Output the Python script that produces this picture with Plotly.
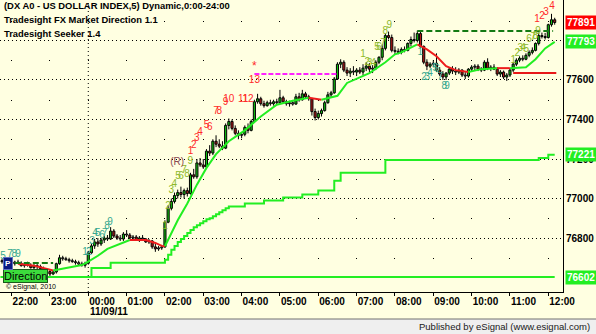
import plotly.graph_objects as go
import pandas as pd

# ---------------- data (5-minute bars from 21:45) ----------------
BASE = pd.Timestamp("2011-11-08 21:45")
BAR_MIN = 5

opens = [76680,76685,76690,76680,76670,76678,76672,76660,76668,76662,76650,76660,76655,76645,76620,76630,76618,76628,76670,76700,
         76695,76690,76685,76680,76675,76668,76662,76672,76725,76760,76780,76770,76790,76800,76795,76835,76810,76800,76795,76820,
         76815,76800,76805,76790,76800,76795,76780,76785,76755,76745,76750,76755,76880,76950,76985,77015,77030,77020,77040,77025,
         77120,77110,77180,77170,77160,77240,77230,77290,77275,77265,77255,77370,77390,77355,77330,77320,77325,77360,77345,77390,
         77490,77505,77480,77470,77485,77480,77490,77485,77510,77490,77480,77485,77478,77515,77500,77530,77515,77505,77440,77410,
         77430,77445,77485,77525,77535,77605,77680,77690,77650,77635,77645,77640,77650,77640,77660,77670,77655,77660,77690,77715,
         77760,77825,77815,77750,77745,77740,77755,77750,77785,77805,77800,77835,77770,77690,77670,77680,77685,77650,77630,77615,
         77635,77655,77645,77640,77650,77625,77620,77655,77665,77670,77655,77650,77690,77660,77665,77655,77630,77640,77615,77625,
         77650,77680,77700,77710,77705,77725,77740,77750,77785,77825,77820,77815,77880,77905]
highs = [76695,76700,76700,76690,76685,76690,76682,76675,76680,76672,76668,76668,76665,76655,76640,76640,76635,76675,76715,76710,
         76705,76700,76695,76690,76685,76680,76680,76735,76770,76795,76800,76800,76810,76815,76855,76845,76820,76815,76830,76840,
         76825,76815,76815,76810,76815,76800,76795,76790,76770,76760,76765,76890,76965,77000,77030,77045,77060,77050,77055,77130,
         77150,77200,77205,77200,77250,77270,77300,77320,77300,77290,77380,77405,77400,77370,77345,77335,77370,77380,77400,77500,
         77530,77515,77495,77495,77500,77500,77505,77550,77520,77500,77495,77495,77530,77535,77550,77540,77525,77510,77455,77445,
         77455,77495,77540,77545,77615,77690,77705,77700,77665,77660,77670,77660,77665,77680,77690,77685,77675,77700,77720,77780,
         77835,77845,77830,77770,77760,77765,77770,77790,77820,77840,77850,77845,77775,77705,77690,77700,77735,77665,77645,77640,
         77665,77670,77665,77660,77655,77640,77660,77675,77680,77680,77665,77700,77710,77675,77680,77665,77650,77648,77635,77660,
         77690,77710,77720,77725,77735,77750,77765,77790,77840,77840,77838,77885,77935,77915]
lows = [76670,76675,76675,76665,76660,76668,76655,76650,76655,76645,76640,76640,76630,76610,76610,76605,76612,76620,76665,76685,
        76685,76675,76675,76665,76660,76655,76650,76665,76720,76745,76755,76760,76775,76785,76790,76800,76790,76785,76785,76805,
        76795,76790,76785,76780,76785,76775,76770,76745,76730,76735,76740,76750,76875,76940,76975,77000,77005,77000,77010,77020,
        77100,77100,77160,77150,77155,77215,77220,77260,77255,77245,77250,77350,77345,77320,77300,77305,77315,77330,77340,77385,
        77480,77470,77460,77465,77470,77470,77475,77480,77480,77470,77465,77470,77475,77490,77495,77505,77495,77420,77395,77400,
        77415,77440,77480,77510,77530,77600,77660,77640,77620,77615,77625,77620,77630,77625,77645,77640,77635,77650,77680,77700,
        77750,77805,77740,77730,77730,77730,77740,77745,77770,77790,77790,77760,77680,77650,77660,77665,77640,77620,77600,77600,
        77625,77630,77625,77630,77615,77605,77612,77645,77650,77645,77640,77645,77650,77645,77650,77620,77615,77605,77595,77615,
        77640,77670,77690,77695,77700,77715,77730,77745,77775,77810,77805,77810,77870,77880]
closes = [76685,76690,76680,76670,76678,76672,76660,76668,76662,76650,76660,76655,76645,76620,76630,76618,76628,76670,76700,76695,
          76690,76685,76680,76675,76668,76662,76672,76725,76760,76780,76770,76790,76800,76795,76835,76810,76800,76795,76820,76815,
          76800,76805,76790,76800,76795,76780,76785,76755,76745,76750,76755,76880,76950,76985,77015,77030,77020,77040,77025,77120,
          77110,77180,77170,77160,77240,77230,77290,77275,77265,77255,77370,77390,77355,77330,77320,77325,77360,77345,77390,77490,
          77505,77480,77470,77485,77480,77490,77485,77510,77490,77480,77485,77478,77515,77500,77530,77515,77505,77440,77410,77430,
          77445,77485,77525,77535,77605,77680,77690,77650,77635,77645,77640,77650,77640,77660,77670,77655,77660,77690,77715,77760,
          77825,77815,77750,77745,77740,77755,77750,77785,77805,77800,77835,77770,77690,77670,77680,77685,77650,77630,77615,77635,
          77655,77645,77640,77650,77625,77620,77655,77665,77670,77655,77650,77690,77660,77665,77655,77630,77640,77615,77625,77650,
          77680,77700,77710,77705,77725,77740,77750,77785,77825,77820,77815,77880,77905,77891]

# Market-direction line (knots: bar index, value, trend state u/d)
mid_bar = [5,10,16,20,25,27,30,33,36,39,40,45,48,50,51,55,58,61,64,67,71,76,81,86,91,96,100,105,108,115,120,123,125,129,130,133,
           136,139,142,146,150,155,158,159,164,167,170,173]
mid_val = [76670,76660,76635,76648,76663,76680,76710,76745,76765,76785,76790,76790,76775,76760,76758,76890,76975,77070,77155,
           77225,77290,77345,77415,77475,77495,77510,77500,77520,77585,77635,77690,77730,77740,77775,77780,77755,77720,77670,
           77650,77640,77655,77660,77658,77660,77665,77705,77760,77793]
mid_state = ["d","d","u","u","u","u","u","u","u","u","d","d","d","d","u","u","u","u","u","u","u","u","u","u","u","d","u","u",
             "u","u","u","u","u","u","d","d","d","d","d","u","u","d","d","u","u","u","u","u"]

# Seeker stop (step line)
step_bar = [27,28,34,51,52,53,54,55,56,57,58,59,60,61,62,63,64,65,66,67,68,69,70,71,76,82,88,94,99,104,106,120,168,171,173]
step_val = [76602,76648,76675,76690,76715,76740,76760,76780,76795,76810,76825,76840,76855,76865,76875,76885,76895,76900,76910,
            76920,76930,76940,76950,76960,76975,76990,77005,77020,77040,77090,77130,77195,77205,77221,77221]

flat_bar = [-0.5, 173]
flat_val = [76602, 76602]

# Horizontal reference levels (start bar, end bar, value)
lvl_left = (4, 16, 76673)
lvl_top = (130, 172.5, 77848)
lvl_magenta = (79, 105, 77630)
lvl_red = (160, 173.5, 77635)

# count labels
red_txt = ["1","2","3","4","5","6","7","8","9","10","11","12","13","1","2","3","4"]
red_bar = [59,60,61,62,64,65,67,68,70,71,75.5,77,79,167.5,169,170.3,172.2]
red_val = [77240,77266,77306,77332,77372,77362,77438,77443,77484,77499,77499,77499,77598,77904,77919,77944,77970]
star_bar, star_val = 79, 77666

ga_txt = ["1","2","3","4","5","6","7","8","9", "1","2","3","4","5","6","7","8","9", "1","2","3","4","5","6","7","8","9"]
ga_bar = [51,52,53,53.9,55.1,56,57,57.9,58.9, 113,114.3,115,116.2,117.4,118,119.3,120,121.2,
          160,161.3,162.2,163.1,164.1,165,166.3,166.9,167.8]
ga_val = [76856,76957,77043,77073,77109,77109,77144,77119,77185, 77727,77691,77686,77686,77767,77767,77787,77848,77878,
          77701,77732,77762,77762,77752,77803,77813,77818,77848]

gb_txt = ["5","7","8","9", "1","2","3","4","5","6","7","8","9", "1","2","3","4","5","6","7","8","9"]
gb_bar = [0.3,2.5,3.8,5, 26,27.2,28.2,29.1,30,31.3,32.2,32.9,33.8, 130.9,132.1,133.1,134,135.6,136.2,137.1,138.4,139.3]
gb_val = [76704,76714,76714,76714, 76729,76729,76780,76825,76825,76815,76825,76856,76876,
          77737,77615,77615,77635,77656,77651,77615,77565,77565]

r_bar, r_val = 54.8, 77180

hour_ticks = ["2011-11-08 22:00","2011-11-08 23:00"] + ["2011-11-09 %02d:00" % h for h in range(0, 13)]
hour_text = [s[-5:] for s in hour_ticks]
y_ticks = [76800, 77000, 77200, 77400, 77600, 77800]
title_lines = ["(DX A0 - US DOLLAR INDEX,5) Dynamic,0:00-24:00",
               "Tradesight FX Market Direction 1.1",
               "Tradesight Seeker 1.4"]

# ---------------- styling ----------------
BG = "#FFFFE1"
C_UP = "#10C010"
C_DN = "#B01818"
C_GRAY = "#A8A8A8"
C_LINE_G = "#22EE22"
C_LINE_R = "#EE1C1C"


def t(k):
    return BASE + pd.Timedelta(minutes=BAR_MIN * k)


fig = go.Figure()

n = len(closes)
xs = [t(k) for k in range(n)]

# wicks (split so they do not cross the bodies)
wx, wy = [], []
for x, o, h, l, c in zip(xs, opens, highs, lows, closes):
    top, bot = max(o, c), min(o, c)
    wx += [x, x, None, x, x, None]
    wy += [top, h, None, l, bot, None]
fig.add_trace(go.Scatter(x=wx, y=wy, mode="lines", line=dict(color="black", width=1), hoverinfo="skip"))

base_l, height_l, col_l = [], [], []
for o, c in zip(opens, closes):
    d = c - o
    hgt = max(abs(d), 3)
    base_l.append(min(o, c) - (hgt - abs(d)) / 2)
    height_l.append(hgt)
    col_l.append(C_UP if d > 9 else (C_DN if d < -9 else C_GRAY))
fig.add_trace(go.Bar(x=xs, y=height_l, base=base_l, width=BAR_MIN * 60000 * 0.66,
                     marker=dict(color=col_l, line=dict(color="black", width=1)), hoverinfo="skip"))

# flat and step lines
fig.add_trace(go.Scatter(x=[t(k) for k in flat_bar], y=flat_val, mode="lines",
                         line=dict(color=C_LINE_G, width=2), hoverinfo="skip"))
fig.add_trace(go.Scatter(x=[t(k) for k in step_bar], y=step_val, mode="lines",
                         line=dict(color=C_LINE_G, width=2, shape="hv"), hoverinfo="skip"))

# direction line, coloured by state
i = 0
while i < len(mid_bar) - 1:
    s = mid_state[i]
    j = i
    while j < len(mid_bar) - 1 and mid_state[j] == s:
        j += 1
    fig.add_trace(go.Scatter(x=[t(k) for k in mid_bar[i:j + 1]], y=mid_val[i:j + 1], mode="lines",
                             line=dict(color=C_LINE_R if s == "d" else C_LINE_G, width=2), hoverinfo="skip"))
    i = j

# reference levels
for (a, b, v), col, dash in [(lvl_left, "#137A13", "6px,3px"), (lvl_top, "#137A13", "6px,3px"),
                             (lvl_magenta, "#FF22FF", "5px,2px"), (lvl_red, "#E81818", "solid")]:
    fig.add_trace(go.Scatter(x=[t(a), t(b)], y=[v, v], mode="lines",
                             line=dict(color=col, width=2, dash=dash), hoverinfo="skip"))

# count labels
fig.add_trace(go.Scatter(x=[t(k) for k in red_bar], y=red_val, mode="text", text=red_txt,
                         textfont=dict(family="Arial", size=10, color="#FF2A2A"), hoverinfo="skip"))
fig.add_trace(go.Scatter(x=[t(star_bar)], y=[star_val], mode="text", text=["*"],
                         textfont=dict(family="Arial", size=12, color="#FF2A2A"), hoverinfo="skip"))
fig.add_trace(go.Scatter(x=[t(k) for k in ga_bar], y=ga_val, mode="text", text=ga_txt,
                         textfont=dict(family="Arial", size=10, color="#8DB82A"), hoverinfo="skip"))
fig.add_trace(go.Scatter(x=[t(k) for k in gb_bar], y=gb_val, mode="text", text=gb_txt,
                         textfont=dict(family="Arial", size=10, color="#36A890"), hoverinfo="skip"))
fig.add_trace(go.Scatter(x=[t(r_bar)], y=[r_val], mode="text", text=["(R)"],
                         textfont=dict(family="Arial", size=10, color="#8A4A50"), hoverinfo="skip"))

PW, PH = 563.0, 292.0


def px(xp):
    return xp / PW


def py(yp):
    return (PH - yp) / PH


ann = []
for li, line in enumerate(title_lines):
    ann.append(dict(xref="paper", yref="paper", x=px(2), y=py(5.5 + 14 * li), xanchor="left", yanchor="middle",
                    showarrow=False, text=line,
                    font=dict(family="Arial", size=9.4, color="black", weight="bold")))
# right-hand value boxes
for v, bg in [(closes[-1], "#FF0000"), (mid_val[-1], "#22EE22"), (step_val[-1], "#22EE22"), (flat_val[-1], "#22EE22")]:
    ann.append(dict(xref="paper", yref="y", x=px(565), y=v, xanchor="left", yanchor="middle", showarrow=False,
                    text=str(v), bgcolor=bg, borderpad=1,
                    font=dict(family="Arial", size=10, color="white", weight="bold")))
ann.append(dict(xref="x", yref="paper", x=t(27), y=py(311), xanchor="left", yanchor="middle", showarrow=False,
                text="11/09/11", font=dict(family="Arial", size=10, color="black", weight="bold")))
ann.append(dict(xref="paper", yref="paper", x=px(3), y=py(276), xanchor="left", yanchor="middle", showarrow=False,
                text="Direction", bgcolor="#3CDC3C", bordercolor="#1A5A1A", borderwidth=1, borderpad=0,
                font=dict(family="Arial", size=11, color="black")))
ann.append(dict(xref="paper", yref="paper", x=px(3), y=py(263), xanchor="left", yanchor="middle", showarrow=False,
                text="P", bgcolor="#0A1A80", borderpad=1, bordercolor="#6070C0", borderwidth=1,
                font=dict(family="Arial", size=8, color="white", weight="bold")))
ann.append(dict(xref="paper", yref="paper", x=px(4), y=py(287), xanchor="left", yanchor="middle", showarrow=False,
                text="© eSignal, 2010", font=dict(family="Arial", size=7, color="black")))
ann.append(dict(xref="paper", yref="paper", x=px(592), y=py(326), xanchor="right", yanchor="middle", showarrow=False,
                text="Published by eSignal (www.esignal.com)", font=dict(family="Arial", size=9.5, color="#202020")))

shapes = [
    dict(type="rect", xref="paper", yref="paper", x0=0, x1=px(596), y0=py(319), y1=py(334),
         fillcolor="#EFEFEF", line=dict(width=0), layer="above"),
    dict(type="line", xref="paper", yref="paper", x0=0, x1=px(596), y0=py(319), y1=py(319),
         line=dict(color="#707070", width=1), layer="above"),
    dict(type="line", xref="x", yref="paper", x0=t(27), x1=t(27), y0=0, y1=1,
         line=dict(color="black", width=1, dash="1px,3px"), layer="below"),
]

fig.update_layout(width=596, height=334, margin=dict(l=0, r=33, t=0, b=42),
                  paper_bgcolor=BG, plot_bgcolor=BG, showlegend=False, barmode="overlay",
                  annotations=ann, shapes=shapes)
fig.update_xaxes(type="date", range=[pd.Timestamp("2011-11-08 21:41:50"), pd.Timestamp("2011-11-09 12:23:00")],
                 tickvals=hour_ticks, ticktext=hour_text, ticklabelposition="outside right",
                 ticks="outside", ticklen=3, tickcolor="black",
                 showgrid=True, gridcolor="black", gridwidth=1, griddash="0px,20.5px,1px,18px",
                 showline=True, linecolor="black", linewidth=1, zeroline=False,
                 tickfont=dict(family="Arial", size=10, color="black", weight="bold"))
fig.update_yaxes(side="right", range=[76526.6, 78005], tickvals=y_ticks, ticktext=[str(v) for v in y_ticks], ticks="",
                 showgrid=True, gridcolor="black", gridwidth=1, griddash="1px,3px",
                 showline=True, linecolor="black", linewidth=1, zeroline=False,
                 tickfont=dict(family="Arial", size=10, color="black", weight="bold"))

fig.write_html("out.html")
